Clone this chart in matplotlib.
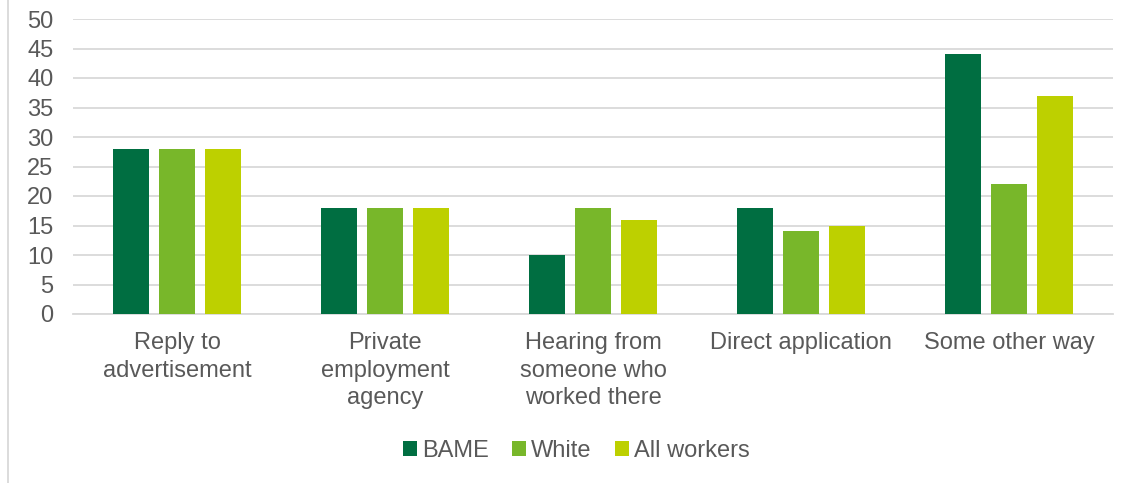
import numpy as np
import matplotlib.pyplot as plt
from matplotlib.lines import Line2D

plt.rcParams['font.family'] = ['Liberation Sans', 'DejaVu Sans']

# data
categories = ['Reply to\nadvertisement', 'Private\nemployment\nagency',
              'Hearing from\nsomeone who\nworked there', 'Direct application', 'Some other way']
series = ['BAME', 'White', 'All workers']
bame = [28, 18, 10, 18, 44]
white = [28, 18, 18, 14, 22]
all_workers = [28, 18, 16, 15, 37]
colors = ['#006e41', '#78b72a', '#bdd000']
txt = '#595959'

fig = plt.figure(figsize=(11.41, 4.83), dpi=100)
ax = fig.add_axes([73 / 1141, 1 - 314 / 483, 1040 / 1141, 295 / 483])

x = np.arange(len(categories))
w = 36 / 208
off = 46 / 208
for i, (vals, c) in enumerate(zip([bame, white, all_workers], colors)):
    ax.bar(x + (i - 1) * off, vals, width=w, color=c, label=series[i], zorder=3)

ax.set_xlim(-0.5, len(categories) - 0.5)
ax.set_ylim(0, 50)
ax.set_yticks(range(0, 51, 5))
ax.yaxis.grid(True, color='#d9d9d9', linewidth=1.3, zorder=0)
ax.set_axisbelow(True)
for s in ['top', 'right', 'left']:
    ax.spines[s].set_visible(False)
ax.spines['bottom'].set_color('#d9d9d9')
ax.spines['bottom'].set_linewidth(1.3)
ax.tick_params(axis='both', length=0, labelsize=17, labelcolor=txt)
ax.tick_params(axis='y', pad=14)
ax.set_xticks(x)
ax.set_xticklabels(categories, va='top', linespacing=1.33)
ax.tick_params(axis='x', pad=13)

ax.legend(loc='center', bbox_to_anchor=(0.484, -0.465),
          ncol=3, frameon=False, fontsize=17, labelcolor=txt,
          handlelength=0.6, handleheight=0.6, handletextpad=0.2, columnspacing=1.0)

# left border of the chart frame
fig.add_artist(Line2D([8 / 1141, 8 / 1141], [0, 1], color='#d9d9d9', linewidth=1.3))

fig.savefig('out.png', dpi=100)
